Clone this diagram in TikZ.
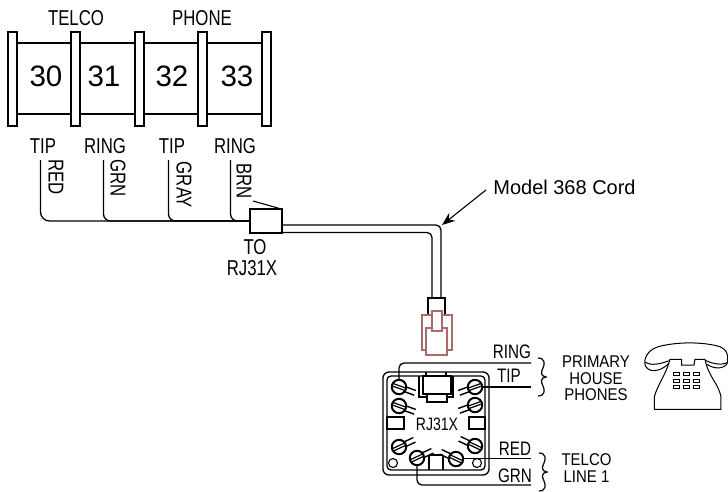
\documentclass[tikz,border=0pt]{standalone}
\usepackage{fontspec}
\setmainfont{Liberation Sans}
\newfontfamily\cadfont[FakeStretch=0.78]{Liberation Sans}
\newfontfamily\sidefont[FakeStretch=0.88]{Liberation Sans}
\usetikzlibrary{arrows.meta}
\definecolor{plugred}{HTML}{A86C6C}
\tikzset{
  wire/.style = {line width=1.3pt, rounded corners=5pt},
  bar/.style = {draw, line width=1.5pt, fill=white, minimum width=9pt, minimum height=94pt, inner sep=0pt},
  number/.style = {font=\fontsize{29.5}{29.5}\selectfont, inner sep=0pt},
  cadtext/.style = {font=\cadfont\fontsize{21.5}{21.5}\selectfont, inner sep=0pt},
  leadtext/.style = {font=\cadfont\fontsize{19.5}{19.5}\selectfont, inner sep=0pt},
  sidetext/.style = {font=\sidefont\fontsize{17}{16.7}\selectfont, inner sep=0pt, align=center},
  screw/.pic = {
    \draw[line width=1.4pt] (5,-2.5) -- (17,-2.5) (5,2.5) -- (17,2.5);
    \draw[line width=2pt, fill=white] (0,0) circle (7.2pt);
    \draw[line width=1.2pt] (-7,-1.3) -- (7,-1.3) (-7,1.3) -- (7,1.3);
  },
  wirebrace/.pic = {
    \draw[line width=1.2pt] (0,-19) .. controls (7,-19) and (7,-13) .. (5,-9)
      .. controls (3,-5) and (2,-1) .. (8,0)
      .. controls (2,1) and (3,5) .. (5,9)
      .. controls (7,13) and (7,19) .. (0,19);
  }
}
\begin{document}
\begin{tikzpicture}[x=1pt, y=-1pt]
\useasboundingbox (0,0) rectangle (728,491);

\draw[line width=1.5pt] (12,43) -- (266,43) (12,114) -- (266,114);
\foreach \x [count=\i] in {12.5,75.5,139.5,202.5,266.5}
   \node[bar] (bar\i) at (\x,79) {};
\foreach \x/\n in {46/30,104/31,172/32,237/33}
   \node[number] (term\n) at (\x,76) {\n};
\node[cadtext] (telco) at (76,18) {TELCO};
\node[cadtext] (phone) at (202,18) {PHONE};

\foreach \x/\t [count=\i] in {43/TIP,105/RING,172/TIP,235/RING}
   \node[cadtext] (lead\i) at (\x,146) {\t};
\node[cadtext, rotate=-90] (red) at (56,177) {RED};
\node[cadtext, rotate=-90] (grn) at (118,178) {GRN};
\node[cadtext, rotate=-90] (gray) at (184,185) {GRAY};
\node[cadtext, rotate=-90] (brn) at (244,181) {BRN};

\node[draw, line width=1.5pt, minimum width=32pt, minimum height=24pt, inner sep=0pt] (plug) at (266,221) {};
\foreach \x/\i in {40.5/1,103.5/2,168.5/3,230.5/4}
   \coordinate (start\i) at (\x,160);
\draw[wire, rounded corners=9pt] (start1) |- (plug.west);
\draw[wire, rounded corners=7pt] (start2) |- (plug.west);
\draw[wire, rounded corners=7pt] (start3) |- (plug.west);
\draw[wire, rounded corners=7pt] (start4) |- (plug.west);
\coordinate (tick) at (253,201);
\draw[line width=1.1pt] (tick) -- ([xshift=-4pt]plug.north east);
\node[cadtext] (to) at (255,247) {TO};
\node[cadtext] (plugname) at (252,268) {RJ31X};

\node[draw, line width=1.5pt, minimum width=17pt, minimum height=17pt, inner sep=0pt] (head) at (436.5,306.5) {};
\coordinate (cordtopa) at (282,225);
\coordinate (cordtopb) at (282,232.5);
\draw[wire] (cordtopa) -| ([xshift=4.5pt]head.north);
\draw[wire] (cordtopb) -| ([xshift=-4.5pt]head.north);
\node[font=\fontsize{20}{20}\selectfont, inner sep=0pt] (cordname) at (564.5,187) {Model 368 Cord};
\coordinate (cordbend) at (442,225);
\draw[-{Stealth[length=13pt,width=10pt]}, line width=1.1pt] (486,190) -- (cordbend);

\draw[plugred, line width=1.2pt] (422,315) -- (452,315) -- (452,350) -- (447,350) -- (447,355)
   -- (426,355) -- (426,350) -- (422,350) -- cycle;
\draw[plugred, line width=1.2pt] (426,350) -- (426,328) -- (447,328) -- (447,350);
\draw[plugred, line width=1.2pt, fill=white] (432,311) rectangle (442,331);

\draw[line width=1.3pt, rounded corners=6pt] (383,372) rectangle (489,475);
\draw[line width=1.3pt, rounded corners=4pt] (387,376) rectangle (485,470);
\draw[line width=1.2pt] (426,372) -- (426,376) (446,372) -- (446,376);
\draw[line width=1.2pt] (419,376) -- (419,397) -- (427,397) -- (427,402) -- (447,402) -- (447,397) -- (453,397) -- (453,376);
\draw[line width=1.6pt] (423,376) rectangle (451,394);
\draw[line width=1.2pt] (427,394) -- (427,402) (447,394) -- (447,402);
\draw[line width=1.2pt] (387,417) rectangle (404,429);
\draw[line width=1.2pt] (469,417) rectangle (485,429);
\draw[line width=1.2pt] (429,455) -- (429,470) (443,455) -- (443,470) (429,455) -- (443,455);
\draw[line width=1.1pt] (393,463) circle (4.5pt);
\draw[line width=1.1pt] (477,463) circle (4.5pt);
\node[font=\cadfont\fontsize{18}{18}\selectfont, inner sep=0pt] (jack) at (437,424) {RJ31X};

\coordinate (ringend) at (531,363);
\coordinate (tipend) at (531,387);
\coordinate (redend) at (531,458.5);
\coordinate (grnend) at (531,485);
\coordinate (ringscrew) at (399,381);
\coordinate (tipscrew) at (481,387);
\coordinate (redscrew) at (462,458.5);
\coordinate (grnscrew) at (417,464);
\draw[wire] (ringscrew) |- (ringend);
\draw[wire] (tipscrew) -- (tipend);
\draw[wire] (redscrew) -- (redend);
\draw[wire] (grnscrew) |- (grnend);

\foreach \x/\y/\a/\s in {399/387/-20/a,399/406/-20/b,475/387/200/c,475/405/200/d,
                         399/447/25/e,475/446/155/f,417/458/25/g,456/459/155/h}
   \pic[rotate=\a] (screw\s) at (\x,\y) {screw};

\node[leadtext] (ring) at (512,352) {RING};
\node[leadtext] (tip) at (509,376) {TIP};
\node[leadtext] (redlead) at (515,449) {RED};
\node[leadtext] (grnlead) at (515,476) {GRN};

\pic (housebrace) at (538,377) {wirebrace};
\pic (telcobrace) at (539,472) {wirebrace};
\node[sidetext] (house) at (596,378.5) {PRIMARY\\HOUSE\\PHONES};
\node[sidetext] (line) at (586.5,468) {TELCO\\LINE\ 1};

\begin{scope}[shift={(530,340)}, x=0.3333pt, y=-0.3333pt, line width=1pt]
\draw (345,60) .. controls (350,38) and (365,26) .. (385,20) .. controls (440,5) and (520,5) .. (570,20)
   .. controls (590,27) and (595,45) .. (593,62) .. controls (594,85) and (555,92) .. (530,72);
\draw (345,60) .. controls (338,90) and (375,108) .. (415,72);
\draw (345,67) .. controls (365,78) and (390,72) .. (418,62);
\draw (528,62) .. controls (550,72) and (575,76) .. (593,68);
\draw (373,208) -- (373,170) .. controls (385,130) and (405,110) .. (420,58) -- (455,58) -- (455,75)
   -- (492,75) -- (495,58) -- (525,58) .. controls (535,110) and (565,130) .. (573,170) -- (573,208) -- cycle;
\foreach \y in {97,117,137}
   \foreach \x in {432,461,490}
      \draw (\x,\y) rectangle (\x+18,\y+9);
\end{scope}
\end{tikzpicture}
\end{document}
